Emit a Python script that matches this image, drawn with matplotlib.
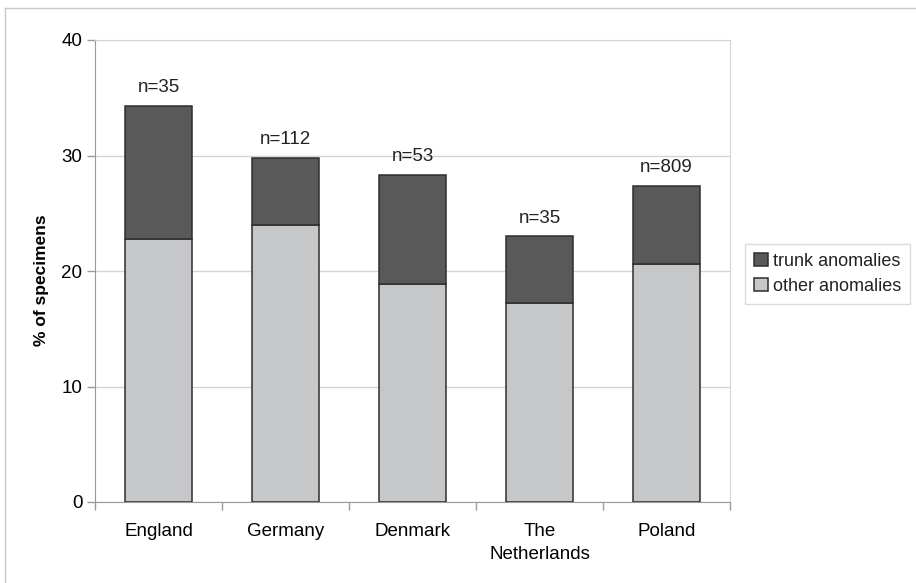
import matplotlib
matplotlib.use("Agg")
import numpy as np
from matplotlib import pyplot as plt
from matplotlib.lines import Line2D

countries = ["England", "Germany", "Denmark", "The\nNetherlands", "Poland"]
other_pct = [22.8, 24.0, 18.9, 17.2, 20.6]
trunk_pct = [11.5, 5.8, 9.4, 5.8, 6.8]
sample_sizes = [35, 112, 53, 35, 809]

DARK = "#595959"
LIGHT = "#c6c7c9"
EDGE = "#2e2e2e"
GRID = "#d4d4d4"
AXIS = "#9a9a9a"

plt.rcParams["font.family"] = ["Liberation Sans", "DejaVu Sans"]
plt.rcParams["text.color"] = "#222222"

fig = plt.figure(figsize=(9.16, 5.83), dpi=100)
ax = fig.add_axes([95 / 916, 1 - 502 / 583, 635 / 916, 462 / 583])

x = np.arange(len(countries))
width = 0.53
ax.bar(x, other_pct, width, color=LIGHT, edgecolor=EDGE, linewidth=1.1,
       label="other anomalies", zorder=3)
ax.bar(x, trunk_pct, width, bottom=other_pct, color=DARK, edgecolor=EDGE,
       linewidth=1.1, label="trunk anomalies", zorder=3)

totals = np.array(other_pct) + np.array(trunk_pct)
for xi, top, n in zip(x, totals, sample_sizes):
    ax.annotate(f"n={n}", (xi, top), xytext=(0, 7), textcoords="offset points",
                ha="center", va="bottom", fontsize=13.5)

ax.set_xlim(-0.5, len(countries) - 0.5)
ax.set_ylim(0, 40)
ax.set_yticks(np.arange(0, 41, 10))
ax.set_xticks(x)
ax.set_xticklabels(countries, linespacing=1.45)
ax.set_xticks(np.arange(-0.5, len(countries)), minor=True)
ax.tick_params(axis="x", which="major", length=0, pad=15, labelsize=13.5)
ax.tick_params(axis="x", which="minor", length=6, color=AXIS, width=1)
ax.tick_params(axis="y", length=6, color=AXIS, width=1, pad=3, labelsize=13.5)

ax.yaxis.grid(True, color=GRID, linewidth=1, zorder=0)
ax.set_axisbelow(True)
for side in ["left", "bottom"]:
    ax.spines[side].set_color(AXIS)
for side in ["top", "right"]:
    ax.spines[side].set_color(GRID)

ax.set_ylabel("% of specimens", fontsize=12.5, fontweight="bold")
ax.yaxis.set_label_coords(-0.073, 0.48)

handles, labels = ax.get_legend_handles_labels()
leg = fig.legend(handles[::-1], labels[::-1], loc="center left",
                 bbox_to_anchor=(745 / 916, 1 - 274 / 583), fontsize=13,
                 frameon=True, fancybox=False, edgecolor=GRID,
                 handlelength=0.75, handleheight=0.75, handletextpad=0.3,
                 labelspacing=0.45, borderpad=0.5, borderaxespad=0)
leg.get_frame().set_linewidth(1)

# thin frame along the top and left of the figure
fig.add_artist(Line2D([5 / 916, 5 / 916], [0, 1 - 8 / 583], transform=fig.transFigure,
                      color="#c8c8c8", linewidth=1))
fig.add_artist(Line2D([5 / 916, 1], [1 - 8 / 583, 1 - 8 / 583], transform=fig.transFigure,
                      color="#c8c8c8", linewidth=1))

fig.savefig("out.png", dpi=100)
